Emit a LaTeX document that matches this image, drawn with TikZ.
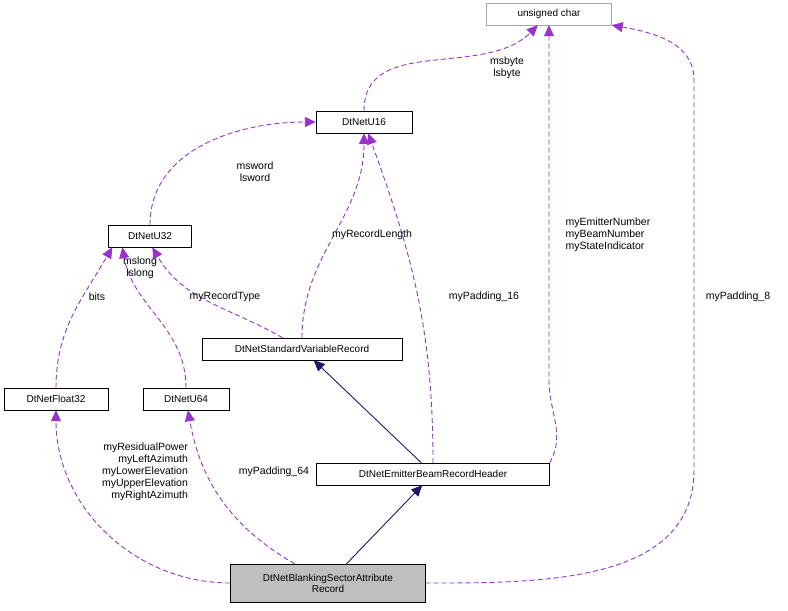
\documentclass[tikz,border=0pt]{standalone}
\usepackage{fontspec}
\setmainfont{Liberation Sans}
\usetikzlibrary{arrows.meta}
\definecolor{dx_purple}{RGB}{153, 50, 204}
\definecolor{dx_navy}{RGB}{25, 25, 112}
\tikzstyle{cls}=[draw=black,fill=white,inner sep=2pt,minimum height=22pt,font=\fontsize{10}{11}\selectfont]
\tikzstyle{cur}=[cls,fill=black!25,align=center,minimum height=38pt]
\tikzstyle{ext}=[cls,draw=black!35]
\tikzstyle{use}=[draw=dx_purple,dashed,line width=0.9pt,dash pattern=on 5pt off 3pt,-{Triangle[fill=dx_purple,length=11pt,width=10pt]}]
\tikzstyle{inh}=[draw=dx_navy,line width=0.9pt,-{Triangle[fill=dx_navy,length=11pt,width=10pt]}]
\tikzstyle{lbl}=[align=center,font=\fontsize{10.5}{12}\selectfont]
\begin{document}
\begin{tikzpicture}[x=1pt,y=-1pt]
            \useasboundingbox (0,0) rectangle (788,611);
            \node [ext,minimum width=125pt] (uc) at (549,14) {unsigned char};
            \node [cls,minimum width=96pt] (u16) at (364,122) {DtNetU16};
            \node [cls,minimum width=83pt] (u32) at (150,236) {DtNetU32};
            \node [cls,minimum width=200pt] (svr) at (302,349) {DtNetStandardVariableRecord};
            \node [cls,minimum width=104pt] (f32) at (56,399) {DtNetFloat32};
            \node [cls,minimum width=86pt] (u64) at (186,399) {DtNetU64};
            \node [cls,minimum width=233pt] (ebh) at (433,474) {DtNetEmitterBeamRecordHeader};
            \node [cur,minimum width=195pt] (bsa) at (328,583) {DtNetBlankingSectorAttribute\\Record};
            \draw [use] (u16) to [out=90,in=-135] (uc);
            \draw [use] (u32) to [out=90,in=180] (u16);
            \draw [use] (svr) to [out=150,in=-60] ([xshift=44pt]u32.south west);
            \draw [use] (svr) to [out=90,in=-90] (u16);
            \draw [use] (f32) to [out=90,in=-120] ([xshift=4pt]u32.south west);
            \draw [use] (u64) to [out=90,in=-80] ([xshift=14pt]u32.south west);
            \draw [use] (ebh) to [out=90,in=-70] (u16);
            \draw [use] (ebh.north east) to [out=60,in=-90] (549,380) -- (uc.south);
            \draw [use] (bsa) to [out=0,in=-90] (694,470) -- (694,80) to [out=90,in=-10] (uc.south east);
            \draw [use] (bsa) to [out=180,in=-90] (f32);
            \draw [use] (bsa) to [out=150,in=-80] (u64);
            \draw [inh] (ebh) -- (svr);
            \draw [inh] (bsa) -- (ebh);
            \node [lbl] at (507,68) {msbyte\\lsbyte};
            \node [lbl] at (255,172) {msword\\lsword};
            \node [lbl] at (225,297) {myRecordType};
            \node [lbl] at (372,235) {myRecordLength};
            \node [lbl] at (97,297) {bits};
            \node [lbl] at (140,268) {mslong\\lslong};
            \node [lbl] at (484,297) {myPadding\_16};
            \node [lbl,align=left] at (608,235) {myEmitterNumber\\myBeamNumber\\myStateIndicator};
            \node [lbl] at (738,297) {myPadding\_8};
            \node [lbl,align=right] at (145,472) {myResidualPower\\myLeftAzimuth\\myLowerElevation\\myUpperElevation\\myRightAzimuth};
            \node [lbl] at (274,472) {myPadding\_64};
\end{tikzpicture}
\end{document}
